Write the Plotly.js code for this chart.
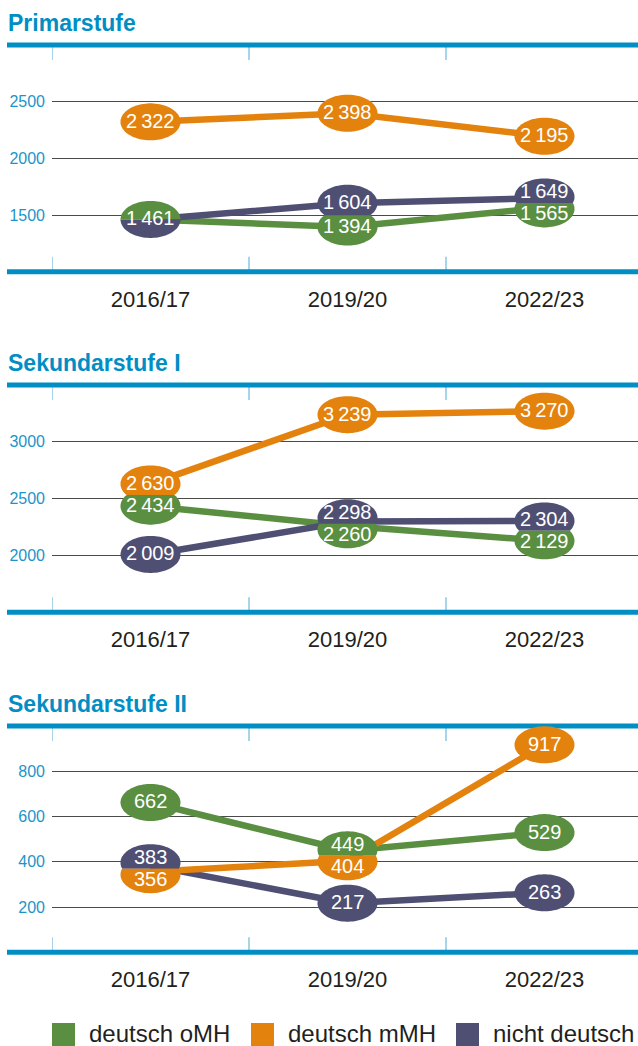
<!DOCTYPE html>
<html><head><meta charset="utf-8">
<script src="https://cdn.plot.ly/plotly-3.0.1.min.js"></script>
<style>html,body{margin:0;padding:0;background:#fff}#chart{width:638px;height:1046px}</style>
</head><body><div id="chart"></div>
<script>
// ---------- DATA ----------
const categories = ['2016/17', '2019/20', '2022/23'];
const seriesNames = ['deutsch oMH', 'deutsch mMH', 'nicht deutsch'];
const panelTitles = ['Primarstufe', 'Sekundarstufe I', 'Sekundarstufe II'];

const primar_oMH = [1461, 1394, 1565];
const primar_mMH = [2322, 2398, 2195];
const primar_nd  = [1461, 1604, 1649];

const sek1_oMH = [2434, 2260, 2129];
const sek1_mMH = [2630, 3239, 3270];
const sek1_nd  = [2009, 2298, 2304];

const sek2_oMH = [662, 449, 529];
const sek2_mMH = [356, 404, 917];
const sek2_nd  = [383, 217, 263];

const primarTicks = [1500, 2000, 2500];
const sek1Ticks = [2000, 2500, 3000];
const sek2Ticks = [200, 400, 600, 800];

// ---------- STYLE / LAYOUT ----------
const W = 638, H = 1046;
const BLUE = '#008ec4';
const TICKBLUE = '#1b95c9';
const colors = ['#5a8f41', '#e3830e', '#4f4f74'];
const FONT = 'Liberation Sans, Arial, Helvetica, sans-serif';
const LABELFONT = 'Liberation Sans, Arial, sans-serif';
const PLOT_LEFT = 52, CAT_W = 197;
const EW = 30, EH = 18.5;          // ellipse half sizes (px)
const ELL_SEP = 12, LAB_SEP = 22;  // min separations (px)

const panels = [
  {title: panelTitles[0], series: [primar_oMH, primar_mMH, primar_nd], ticks: primarTicks, range: [1000, 3000], top: 45, bottom: 271.7},
  {title: panelTitles[1], series: [sek1_oMH, sek1_mMH, sek1_nd], ticks: sek1Ticks, range: [1500, 3500], top: 385, bottom: 612.3},
  {title: panelTitles[2], series: [sek2_oMH, sek2_mMH, sek2_nd], ticks: sek2Ticks, range: [0, 1000], top: 726, bottom: 952.3}
];

const py = px => 1 - px / H;   // screen px -> paper y
const fmt = v => v >= 1000 ? Math.floor(v / 1000) + '\u2009' + String(v % 1000).padStart(3, '0') : String(v);

const traces = [], shapes = [], annotations = [];
const layout = {
  width: W, height: H, margin: {l: 0, r: 0, t: 0, b: 0},
  paper_bgcolor: '#fff', plot_bgcolor: '#fff', showlegend: false,
  font: {family: FONT}
};
const xRange = [-0.5, -0.5 + (W - PLOT_LEFT) / CAT_W];
const drawOrder = [0, 2, 1];

panels.forEach((p, pi) => {
  const sfx = pi === 0 ? '' : String(pi + 1);
  const xa = 'x' + sfx, ya = 'y' + sfx;
  layout['xaxis' + sfx] = {
    domain: [PLOT_LEFT / W, 1], range: xRange, type: 'category', anchor: ya,
    showgrid: false, zeroline: false, showline: false, ticks: '',
    tickfont: {size: 22, color: '#231f20', family: FONT}, ticklabelstandoff: 12, fixedrange: true
  };
  layout['yaxis' + sfx] = {
    domain: [py(p.bottom), py(p.top)], range: p.range, anchor: xa,
    tickvals: p.ticks, ticktext: p.ticks.map(String),
    showgrid: true, gridcolor: '#4a4a4a', gridwidth: 1,
    zeroline: false, showline: false, ticks: '',
    tickfont: {size: 16, color: TICKBLUE, family: FONT}, ticklabelstandoff: 6, fixedrange: true
  };

  drawOrder.forEach(s => {
    traces.push({
      x: categories, y: p.series[s], xaxis: xa, yaxis: ya, type: 'scatter', mode: 'lines',
      line: {color: colors[s], width: 6.5}, hoverinfo: 'skip', showlegend: false
    });
  });

  // category separator ticks
  [-0.5, 0.5, 1.5].forEach(k => {
    shapes.push({type: 'line', xref: xa, yref: 'paper', x0: k, x1: k, y0: py(p.top), y1: py(p.top + 15), line: {color: '#6bb8de', width: 1.2}});
    shapes.push({type: 'line', xref: xa, yref: 'paper', x0: k, x1: k, y0: py(p.bottom), y1: py(p.bottom - 15), line: {color: '#6bb8de', width: 1.2}});
  });
  // blue rules
  [p.top, p.bottom].forEach(yy => {
    shapes.push({type: 'line', xref: 'paper', yref: 'paper', x0: 7 / W, x1: 1, y0: py(yy), y1: py(yy), line: {color: BLUE, width: 5}});
  });
  // title
  annotations.push({xref: 'paper', yref: 'paper', x: 6 / W, y: py(p.top - 22), xanchor: 'left', yanchor: 'middle',
    text: '<b>' + p.title + '</b>', showarrow: false, font: {family: FONT, size: 23, color: BLUE}});

  const ppu = (p.bottom - p.top) / (p.range[1] - p.range[0]);
  const dataPx = v => p.bottom - (v - p.range[0]) * ppu;

  categories.forEach((cat, ci) => {
    const pts = [0, 1, 2].map(s => ({s, v: p.series[s][ci], d: dataPx(p.series[s][ci])}));
    pts.sort((a, b) => (a.d - b.d) || (a.s - b.s));
    const relax = (key, sep) => {
      pts.forEach(q => q[key] = q.d);
      for (let it = 0; it < 30; it++) {
        for (let j = 0; j < pts.length - 1; j++) {
          const a = pts[j], b = pts[j + 1];
          if (a.v === b.v) continue;
          const gap = b[key] - a[key];
          if (gap < sep) { const sh = (sep - gap) / 2; a[key] -= sh; b[key] += sh; }
        }
      }
    };
    relax('c', ELL_SEP);
    relax('l', LAB_SEP);

    pts.forEach((q, j) => {
      let top = EH, bot = -EH;
      if (j > 0 && q.c - pts[j - 1].c < 2 * EH) top = (q.c - pts[j - 1].c) / 2;
      if (j < pts.length - 1 && pts[j + 1].c - q.c < 2 * EH) bot = -(pts[j + 1].c - q.c) / 2;
      const off = q.d - q.c;
      const N = 90;
      let path = '';
      for (let k = 0; k <= N; k++) {
        const t = 2 * Math.PI * k / N;
        const x = EW * Math.cos(t);
        const y = off + Math.min(top, Math.max(bot, EH * Math.sin(t)));
        path += (k === 0 ? 'M' : 'L') + x.toFixed(2) + ',' + y.toFixed(2);
      }
      path += 'Z';
      shapes.push({type: 'path', xref: xa, yref: ya, xsizemode: 'pixel', ysizemode: 'pixel',
        xanchor: ci, yanchor: q.v, path, fillcolor: colors[q.s], line: {width: 0}, layer: 'above'});
    });
    pts.forEach((q, j) => {
      if (j > 0 && pts[j - 1].v === q.v) return;
      annotations.push({xref: xa, yref: ya, x: ci, y: q.v, yshift: q.d - q.l + 1, xanchor: 'center', yanchor: 'middle',
        text: fmt(q.v), showarrow: false, borderpad: 0, font: {family: LABELFONT, size: 20, color: '#ffffff'}});
    });
  });
});

// legend
const legendPos = [{sq: 52, tx: 87}, {sq: 251, tx: 286}, {sq: 456, tx: 491}];
seriesNames.forEach((name, s) => {
  shapes.push({type: 'rect', xref: 'paper', yref: 'paper', x0: legendPos[s].sq / W, x1: (legendPos[s].sq + 23) / W,
    y0: 0, y1: py(1023), fillcolor: colors[s], line: {width: 0}});
  annotations.push({xref: 'paper', yref: 'paper', x: legendPos[s].tx / W, y: py(1033.5), xanchor: 'left', yanchor: 'middle',
    text: name, showarrow: false, font: {family: FONT, size: 24, color: '#231f20'}});
});

layout.shapes = shapes;
layout.annotations = annotations;
Plotly.newPlot('chart', traces, layout, {staticPlot: true, displayModeBar: false});
</script>
</body></html>
